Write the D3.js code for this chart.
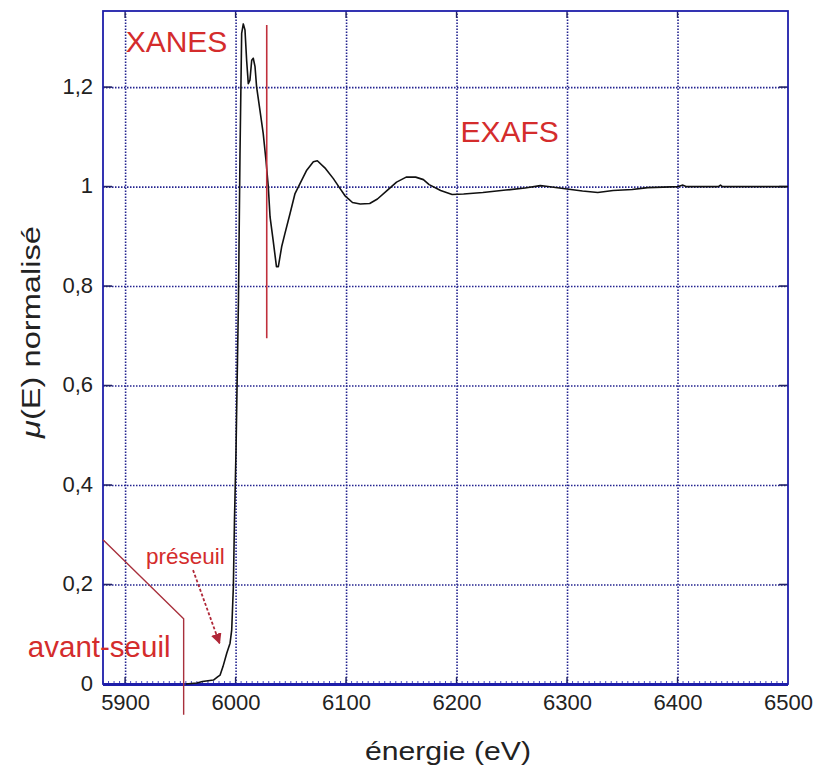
<!DOCTYPE html>
<html>
<head>
<meta charset="utf-8">
<script src="https://cdn.jsdelivr.net/npm/d3@7"></script>
<style>
  html, body { margin: 0; padding: 0; background: #ffffff; }
  svg { display: block; font-family: "Liberation Sans", Arial, Helvetica, sans-serif; }
</style>
</head>
<body>
<svg id="chart" width="815" height="771"></svg>
<script>
// ---- data ----
const energy = [5955, 5965, 5970, 5980, 5984, 5986, 5988.6, 5992, 5995, 5996.5, 5998, 5999,
  6000.4, 6002.6, 6004, 6005.5, 6007, 6008.5, 6010, 6011.5, 6013, 6014.6, 6016, 6017.6, 6019,
  6022, 6025, 6027.5, 6029.6, 6031.2, 6034, 6037, 6038.7, 6041.7, 6044.7, 6049.3, 6053.8,
  6058.3, 6064.4, 6070.4, 6074, 6081.5, 6088.5, 6093.7, 6098.9, 6105.8, 6112.8, 6121.4,
  6128.4, 6137, 6145.7, 6154.4, 6163, 6170, 6175.2, 6185.6, 6196, 6206.4, 6223.8, 6244.6,
  6261.9, 6275.8, 6281, 6300, 6314, 6327.8, 6341.7, 6359, 6373, 6400.7, 6404.9, 6407.6,
  6437, 6438.9, 6440.6, 6500];
const mu = [0, 0.002, 0.005, 0.008, 0.015, 0.018, 0.035, 0.062, 0.082, 0.109, 0.196, 0.33,
  0.47, 0.772, 1.067, 1.308, 1.327, 1.315, 1.254, 1.207, 1.214, 1.254, 1.258, 1.241, 1.201,
  1.154, 1.107, 1.053, 1.0, 0.939, 0.892, 0.839, 0.839, 0.879, 0.906, 0.946, 0.986,
  1.006, 1.033, 1.05, 1.052, 1.036, 1.016, 0.999, 0.982, 0.968, 0.965, 0.966,
  0.975, 0.992, 1.009, 1.019, 1.019, 1.014, 1.004, 0.992, 0.984, 0.985, 0.988, 0.993,
  0.997, 1.002, 1.0007, 0.995, 0.991, 0.988, 0.992, 0.994, 0.998, 1.0, 1.003, 1.0,
  1.0, 1.003, 1.0, 1.0];

const xTicks = [5900, 6000, 6100, 6200, 6300, 6400, 6500];
const xTickLabels = ["5900", "6000", "6100", "6200", "6300", "6400", "6500"];
const yTicks = [0, 0.2, 0.4, 0.6, 0.8, 1, 1.2];
const yTickLabels = ["0", "0,2", "0,4", "0,6", "0,8", "1", "1,2"];

// annotations (data coordinates)
const avantSeuilLine = [[5880, 0.29], [5953, 0.131], [5953, -0.062]];
const xanesExafsLine = [[6028.2, 1.325], [6028.2, 0.695]];
const preseuilArrow = [[5961.5, 0.229], [5985.5, 0.082]];
const labels = [
  { text: "XANES", e: 5900.5, v: 1.271, size: 30 },
  { text: "EXAFS", e: 6203.5, v: 1.09, size: 30 },
  { text: "avant-seuil", e: 5812, v: 0.054, size: 29.5 },
  { text: "préseuil", e: 5919, v: 0.242, size: 22.5 }
];

// ---- drawing ----
const svg = d3.select("#chart");
const x = d3.scaleLinear().domain([5880, 6500]).range([103, 788]);
const y = d3.scaleLinear().domain([0, 1.353]).range([684, 11]);
const x0 = x.range()[0], x1 = x.range()[1];
const yTop = y.range()[1], yBot = y(0);

const gridColor = "#23238f";
const frameColor = "#1e1eaa";

// gridlines
const gx = svg.append("g").attr("transform", `translate(0,${yBot})`)
  .call(d3.axisBottom(x).tickValues(xTicks.filter(d => d > 5880 && d < 6500))
    .tickSize(-(yBot - yTop)).tickFormat(""));
gx.select(".domain").remove();
gx.selectAll("line").attr("stroke", gridColor).attr("stroke-width", 1.6).attr("stroke-dasharray", "1.5,1.5");

const gy = svg.append("g").attr("transform", `translate(${x0},0)`)
  .call(d3.axisLeft(y).tickValues(yTicks.filter(d => d > 0))
    .tickSize(-(x1 - x0)).tickFormat(""));
gy.select(".domain").remove();
gy.selectAll("line").attr("stroke", gridColor).attr("stroke-width", 1.6).attr("stroke-dasharray", "1.5,1.5");

// minor ticks on bottom axis
const minor = d3.range(5880, 6500, 5);
svg.append("g").selectAll("line").data(minor).join("line")
  .attr("x1", d => x(d)).attr("x2", d => x(d))
  .attr("y1", yBot).attr("y2", yBot - 3)
  .attr("stroke", frameColor).attr("stroke-width", 0.8);

// major ticks (inward, all sides)
const majorX = xTicks.filter(d => d < 6500);
svg.append("g").selectAll("line").data(majorX).join("line")
  .attr("x1", d => x(d)).attr("x2", d => x(d))
  .attr("y1", yBot).attr("y2", yBot - 7)
  .attr("stroke", "#222266").attr("stroke-width", 1.4);
svg.append("g").selectAll("line").data(majorX).join("line")
  .attr("x1", d => x(d)).attr("x2", d => x(d))
  .attr("y1", yTop).attr("y2", yTop + 7)
  .attr("stroke", "#222266").attr("stroke-width", 1.4);
const majorY = yTicks.filter(d => d > 0);
svg.append("g").selectAll("line").data(majorY).join("line")
  .attr("x1", x0).attr("x2", x0 + 9)
  .attr("y1", d => y(d)).attr("y2", d => y(d))
  .attr("stroke", "#222266").attr("stroke-width", 1.6);
svg.append("g").selectAll("line").data(majorY).join("line")
  .attr("x1", x1).attr("x2", x1 - 9)
  .attr("y1", d => y(d)).attr("y2", d => y(d))
  .attr("stroke", "#222266").attr("stroke-width", 1.6);

// frame
svg.append("rect").attr("x", x0).attr("y", yTop)
  .attr("width", x1 - x0).attr("height", yBot - yTop)
  .attr("fill", "none").attr("stroke", frameColor).attr("stroke-width", 1.8);
svg.append("line").attr("x1", x0).attr("x2", x1).attr("y1", yBot + 0.5).attr("y2", yBot + 0.5)
  .attr("stroke", frameColor).attr("stroke-width", 3);

// tick labels via axes
const xa = svg.append("g").attr("transform", `translate(0,${yBot})`)
  .call(d3.axisBottom(x).tickValues(xTicks).tickSize(0).tickPadding(10)
    .tickFormat((d, i) => xTickLabels[i]));
xa.select(".domain").remove();
xa.selectAll("text").attr("font-size", 22).attr("fill", "#222")
  .attr("font-family", "'Liberation Sans', Arial, sans-serif").attr("dy", "0.71em");

const ya = svg.append("g").attr("transform", `translate(${x0},0)`)
  .call(d3.axisLeft(y).tickValues(yTicks).tickSize(0).tickPadding(10)
    .tickFormat((d, i) => yTickLabels[i]));
ya.select(".domain").remove();
ya.selectAll("text").attr("font-size", 22).attr("fill", "#222")
  .attr("font-family", "'Liberation Sans', Arial, sans-serif").attr("dy", "0.28em");

// data curve
const line = d3.line().x((d, i) => x(energy[i])).y((d, i) => y(mu[i]));
svg.append("path").datum(mu).attr("d", line)
  .attr("fill", "none").attr("stroke", "#111").attr("stroke-width", 1.6)
  .attr("stroke-linejoin", "round");

// annotations
const pl = d3.line().x(d => x(d[0])).y(d => y(d[1]));
svg.append("path").datum(avantSeuilLine).attr("d", pl)
  .attr("fill", "none").attr("stroke", "#a8303c").attr("stroke-width", 1.4);
svg.append("path").datum(xanesExafsLine).attr("d", pl)
  .attr("fill", "none").attr("stroke", "#c0303c").attr("stroke-width", 1.6);

svg.append("defs").append("marker").attr("id", "arr")
  .attr("viewBox", "0 0 10 10").attr("refX", 9).attr("refY", 5)
  .attr("markerWidth", 6).attr("markerHeight", 6).attr("orient", "auto")
  .append("path").attr("d", "M0,0 L10,5 L0,10 Z").attr("fill", "#b02838");
svg.append("path").datum(preseuilArrow).attr("d", pl)
  .attr("fill", "none").attr("stroke", "#b02838").attr("stroke-width", 1.8)
  .attr("stroke-dasharray", "3,2").attr("marker-end", "url(#arr)");

svg.append("g").selectAll("text").data(labels).join("text")
  .attr("x", d => x(d.e)).attr("y", d => y(d.v))
  .attr("font-size", d => d.size).attr("fill", "#d42c2c")
  .text(d => d.text);

// axis titles
svg.append("text").attr("x", 365).attr("y", 760)
  .attr("font-size", 26).attr("fill", "#222")
  .attr("textLength", 166).attr("lengthAdjust", "spacingAndGlyphs")
  .text("énergie (eV)");

svg.append("text").attr("transform", "translate(40,332) rotate(-90)")
  .attr("text-anchor", "middle")
  .attr("font-size", 26).attr("fill", "#222")
  .attr("textLength", 212).attr("lengthAdjust", "spacingAndGlyphs")
  .html('<tspan font-style="italic">μ</tspan>(E) normalisé');
</script>
</body>
</html>
